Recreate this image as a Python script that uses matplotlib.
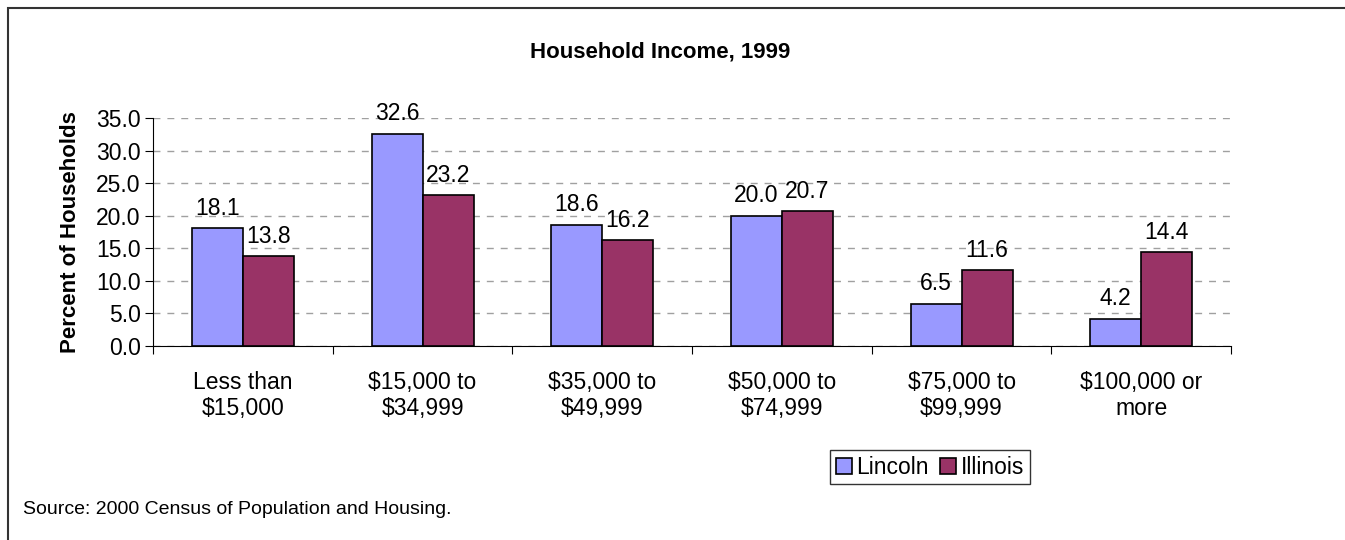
import matplotlib.pyplot as plt
import numpy as np
from matplotlib.patches import Rectangle

plt.rcParams['font.family'] = ['Liberation Sans', 'DejaVu Sans']

# Datos del grafico
categorias = ['Less than\n$15,000', '$15,000 to\n$34,999', '$35,000 to\n$49,999',
              '$50,000 to\n$74,999', '$75,000 to\n$99,999', '$100,000 or\nmore']
lincoln = [18.1, 32.6, 18.6, 20.0, 6.5, 4.2]
illinois = [13.8, 23.2, 16.2, 20.7, 11.6, 14.4]
y_ticks = [0, 5, 10, 15, 20, 25, 30, 35]

fs = 16.5

fig = plt.figure(figsize=(13.45, 5.4), dpi=100)
ax = fig.add_axes([0.1138, 0.3593, 0.8015, 0.4222])

x = np.arange(len(categorias))
ancho = 0.284
b1 = ax.bar(x - ancho / 2, lincoln, ancho, color='#9999FF', edgecolor='black',
            linewidth=1.2, label='Lincoln', zorder=3)
b2 = ax.bar(x + ancho / 2, illinois, ancho, color='#993366', edgecolor='black',
            linewidth=1.2, label='Illinois', zorder=3)

for barras in (b1, b2):
    for b in barras:
        ax.annotate('%.1f' % b.get_height(), (b.get_x() + b.get_width() / 2, b.get_height()),
                    xytext=(0, 6), textcoords='offset points', ha='center', va='bottom',
                    fontsize=fs)

ax.set_xlim(-0.5, len(categorias) - 0.5)
ax.set_ylim(0, 35)
ax.set_yticks(y_ticks)
ax.set_yticklabels(['%.1f' % v for v in y_ticks], fontsize=fs)
ax.set_xticks(np.arange(len(categorias) + 1) - 0.5)
ax.set_xticklabels([])
ax.set_xticks(x, minor=True)
ax.set_xticklabels(categorias, minor=True, fontsize=fs, linespacing=1.15)
ax.tick_params(axis='x', which='minor', length=0, pad=18)
ax.tick_params(axis='x', which='major', length=6, direction='out')
ax.tick_params(axis='y', length=6, direction='out', pad=3)

for s in ['top', 'right']:
    ax.spines[s].set_visible(False)
ax.yaxis.grid(True, linestyle=(0, (5, 5)), color='#a0a0a0', linewidth=1, zorder=0)
ax.set_axisbelow(True)

ax.set_ylabel('Percent of Households', fontsize=16, fontweight='bold', labelpad=11)
fig.text(0.4907, 0.903, 'Household Income, 1999', ha='center', va='center',
         fontsize=16, fontweight='bold')

fig.legend(loc='center', bbox_to_anchor=(0.6915, 0.135), ncol=2, fontsize=fs,
           frameon=True, fancybox=False, edgecolor='black', handlelength=0.7,
           handleheight=0.7, handletextpad=0.2, columnspacing=0.5, borderpad=0.25,
           borderaxespad=0)

fig.text(0.017, 0.056, 'Source: 2000 Census of Population and Housing.', ha='left',
         va='center', fontsize=14)

# Borde del grafico
fig.patches.append(Rectangle((8 / 1345, -0.1), 1.1, 1.1 - 8 / 540,
                             transform=fig.transFigure, fill=False,
                             edgecolor='#333333', linewidth=1.5))

fig.savefig('out.png', dpi=100)
